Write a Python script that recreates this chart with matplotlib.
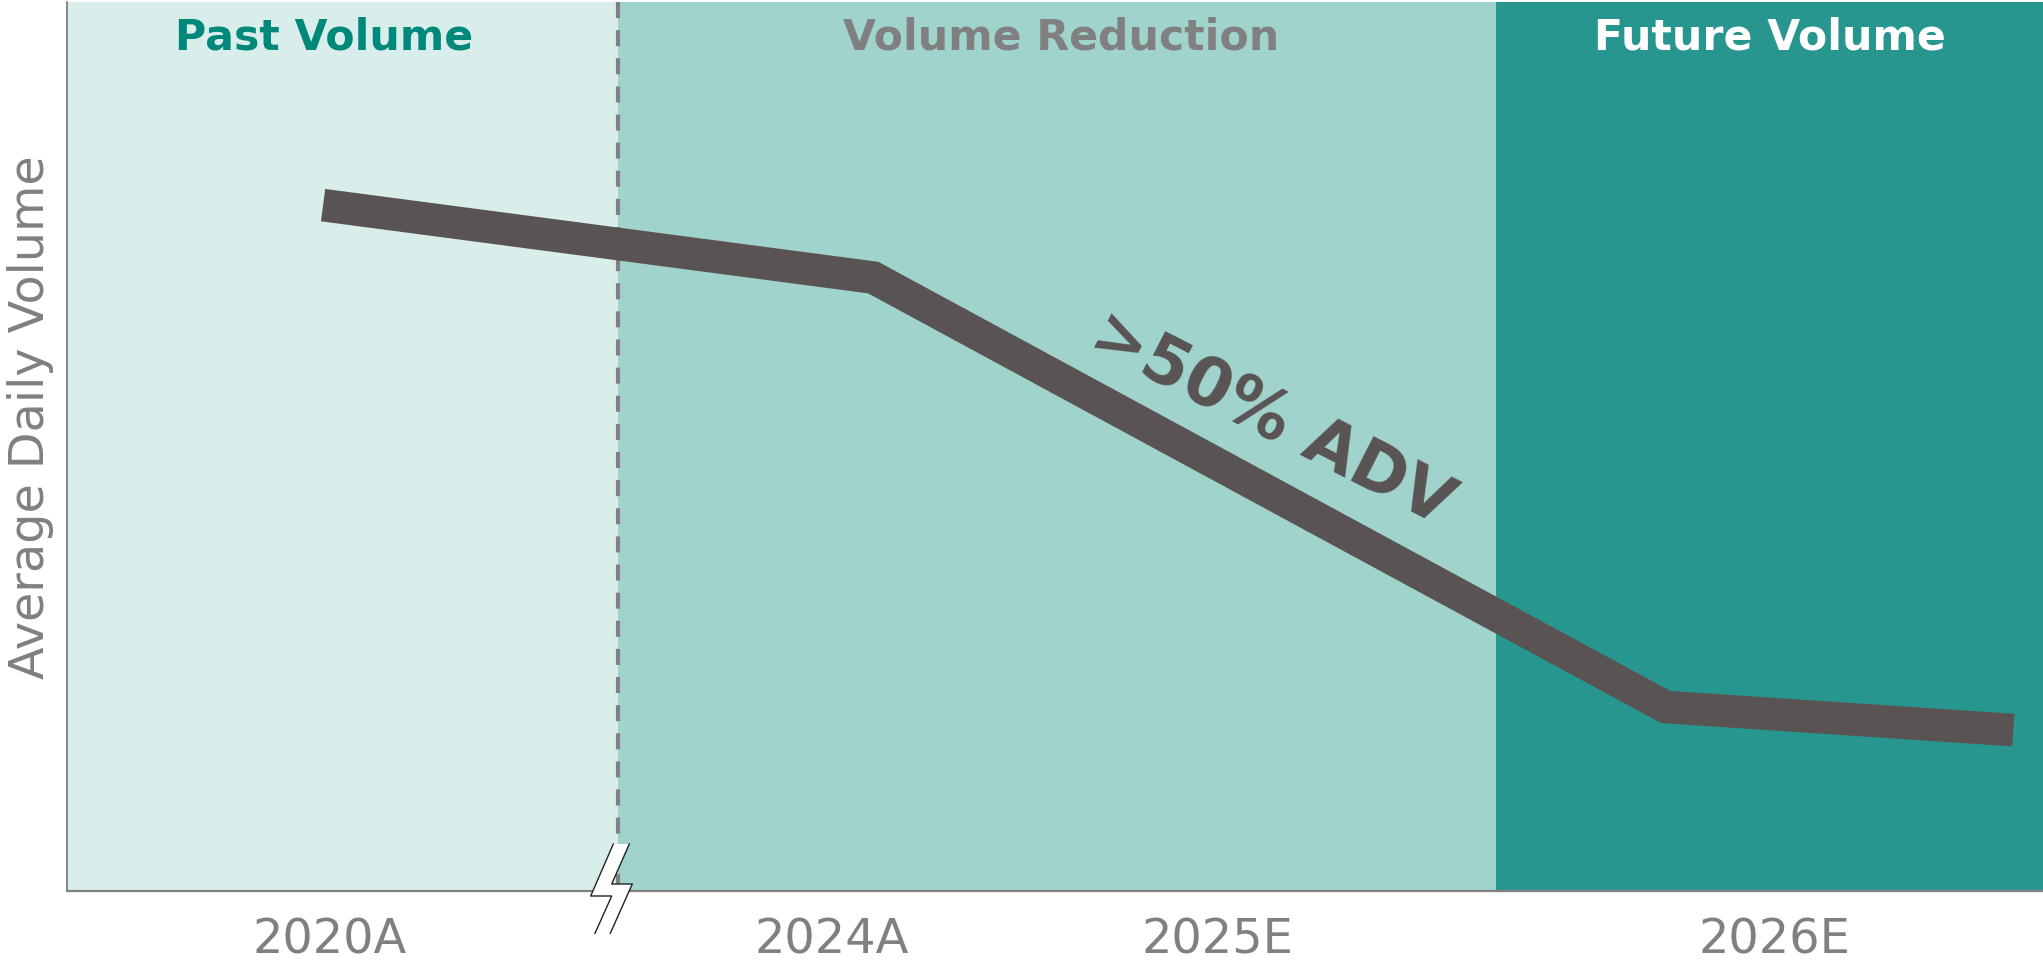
import matplotlib
matplotlib.use("Agg")
import matplotlib.pyplot as plt
from matplotlib.patches import Polygon
from matplotlib.lines import Line2D

W, H = 2043, 961
tick_pos = [13.3, 38.7, 58.2, 86.4]
tick_labels = ["2020A", "2024A", "2025E", "2026E"]
line_x = [12.96, 40.8, 80.9, 98.5]
line_y = [77.15, 69.0, 20.7, 18.1]
region_edges = [0, 27.9, 72.3, 100]
region_colors = ["#D9EDEA", "#A1D3CD", "#27968E"]
region_names = ["Past Volume", "Volume Reduction", "Future Volume"]
region_text_x = [13.0, 50.3, 86.2]
region_text_colors = ["#00897B", "#808080", "#FFFFFF"]
GREY = "#808080"
DARK = "#595453"

fig = plt.figure(figsize=(W / 100, H / 100), dpi=100, facecolor="white")
ax = fig.add_axes([67 / W, (H - 891) / H, (W - 67) / W, 889 / H])
ax.set_xlim(0, 100)
ax.set_ylim(0, 100)

for i, c in enumerate(region_colors):
    ax.axvspan(region_edges[i], region_edges[i + 1], color=c, lw=0, zorder=1)
    ax.text(region_text_x[i], 96.0, region_names[i], color=region_text_colors[i],
            fontsize=30.7, fontweight="bold", ha="center", va="center", zorder=5)

ax.plot([region_edges[1]] * 2, [100, 0], color=GREY, lw=3, linestyle=(0, (3.85, 2.9)), zorder=2)
ax.plot(line_x, line_y, color=DARK, lw=23.5, solid_capstyle="butt",
        solid_joinstyle="miter", zorder=3)
ax.text(61.0, 53.1, ">50% ADV", color=DARK, fontsize=48, fontweight="bold",
        rotation=-27, ha="center", va="center", rotation_mode="anchor", zorder=5)

for s in ["top", "right"]:
    ax.spines[s].set_visible(False)
ax.spines["left"].set_color(GREY)
ax.spines["left"].set_linewidth(1.3)
ax.spines["bottom"].set_color(GREY)
ax.spines["bottom"].set_linewidth(1.6)
ax.set_yticks([])
ax.set_xticks(tick_pos)
ax.set_xticklabels(tick_labels, fontsize=34.5, color=GREY)
ax.tick_params(axis="x", length=0, pad=18.5)
fig.text(31 / W, 1 - 417 / H, "Average Daily Volume", color=GREY, fontsize=34.3,
         rotation=90, ha="center", va="center")

# axis-break symbol (figure decoration)
def px(p):
    return (p[0] / W, 1 - p[1] / H)

left = [(613.3, 844), (590.7, 896), (611.7, 896), (595, 933.3)]
right = [(629.3, 844), (611.7, 884), (632.3, 884), (610.3, 933.3)]
fig.add_artist(Polygon([px(p) for p in left + right[::-1]], closed=True, facecolor="white",
                       edgecolor="none", transform=fig.transFigure, zorder=6))
for path in (left, right):
    xs, ys = zip(*[px(p) for p in path])
    fig.add_artist(Line2D(xs, ys, color="#222222", lw=1.0, transform=fig.transFigure, zorder=7))

fig.savefig("out.png", dpi=100)
